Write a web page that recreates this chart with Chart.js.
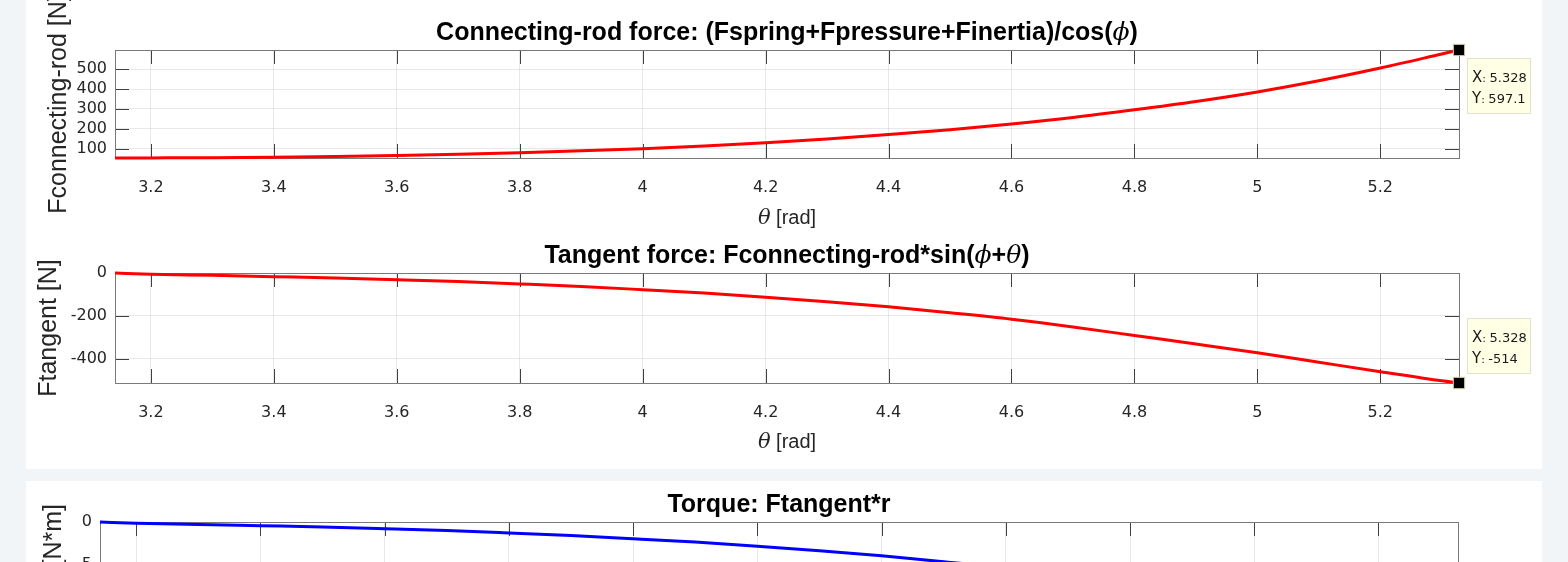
<!DOCTYPE html>
<html lang="en">
<head>
<meta charset="UTF-8">
<title>Crank forces</title>
<style>
  body {
    margin: 0;
    width: 1568px;
    height: 562px;
    overflow: hidden;
    position: relative;
    background: #f2f5f8;
  }
  .panel { position: absolute; left: 26px; width: 1516px; background: #fff; }
  #panel1 { top: 0; height: 469px; }
  #panel2 { top: 481px; height: 200px; }
  canvas { position: absolute; left: 0; }
  #c1 { top: 0; }
  #c2 { top: 234px; }
  #c3 { top: 481px; }
</style>
<script src="https://cdn.jsdelivr.net/npm/chart.js"></script>
</head>
<body>
<div class="panel" id="panel1"></div>
<div class="panel" id="panel2"></div>
<canvas id="c1" width="1568" height="234"></canvas>
<canvas id="c2" width="1568" height="235"></canvas>
<canvas id="c3" width="1568" height="200"></canvas>

<script>
// crank angle samples [rad]
const theta = [3.1416, 3.2, 3.3, 3.4, 3.5, 3.6, 3.7, 3.8, 3.9, 4.0, 4.1, 4.2,
               4.3, 4.4, 4.5, 4.6, 4.7, 4.8, 4.9, 5.0, 5.1, 5.2, 5.3, 5.328];
// connecting-rod force [N]
const fConnRod = [53, 53.5, 54.5, 57, 61, 66, 72, 80, 89, 100, 114, 130,
                  149, 171, 195, 224, 257, 296, 338, 386, 442, 506, 577, 597.1];
// tangent force [N]
const fTangent = [0, -6, -11, -17, -23, -31, -40, -51, -63, -78, -94, -113,
                  -134, -158, -186, -216, -252, -292, -332, -373, -417, -461, -504, -514];
// torque [N*m]
const torque = [0, -0.15, -0.28, -0.43, -0.58, -0.78, -1.0, -1.28, -1.58, -1.95, -2.35, -2.83,
                -3.35, -3.95, -4.65, -5.4, -6.3, -7.3, -8.3, -9.33, -10.43, -11.53, -12.6, -12.85];

const xTicks = [3.2, 3.4, 3.6, 3.8, 4.0, 4.2, 4.4, 4.6, 4.8, 5.0, 5.2];
const xTickLabels = ['3.2', '3.4', '3.6', '3.8', '4', '4.2', '4.4', '4.6', '4.8', '5', '5.2'];
const yTicksConn = [100, 200, 300, 400, 500];
const yTicksTan = [-400, -200, 0];
const yTicksTorque = [-10, -5, 0];

const TXT = '#262626';
const GRID = 'rgba(0,0,0,0.09)';
const tickFont = { family: 'DejaVu Sans', size: 16 };

// draws text made of several font runs, starting at x (or centred on x)
function drawRich(ctx, parts, x, baseY, centred) {
  if (centred) {
    let w = 0;
    parts.forEach(p => { ctx.font = p[1]; w += ctx.measureText(p[0]).width; });
    x -= w / 2;
  }
  ctx.textAlign = 'left';
  ctx.textBaseline = 'alphabetic';
  parts.forEach(p => {
    ctx.font = p[1];
    ctx.fillText(p[0], x, baseY);
    x += ctx.measureText(p[0]).width;
  });
}

// MATLAB-ish axes: box, inward ticks, titles, data tip
const matlabAxes = {
  id: 'matlabAxes',
  beforeDatasetsDraw(chart, args, opts) {
    const { ctx, chartArea: a, scales: { x, y } } = chart;
    ctx.save();
    ctx.strokeStyle = '#404040';
    ctx.lineWidth = 1;
    ctx.beginPath();
    x.ticks.forEach(t => {
      const px = Math.round(x.getPixelForValue(t.value)) + 0.5;
      ctx.moveTo(px, a.top); ctx.lineTo(px, a.top + 14);
      ctx.moveTo(px, a.bottom); ctx.lineTo(px, a.bottom - 14);
    });
    y.ticks.forEach(t => {
      const py = Math.round(y.getPixelForValue(t.value)) + 0.5;
      if (py < a.top + 1 || py > a.bottom - 1) return;
      ctx.moveTo(a.left, py); ctx.lineTo(a.left + 14, py);
      ctx.moveTo(a.right, py); ctx.lineTo(a.right - 14, py);
    });
    ctx.stroke();
    ctx.strokeStyle = '#7a7a7a';
    ctx.strokeRect(Math.round(a.left) + 0.5, Math.round(a.top) + 0.5,
                   Math.round(a.right - a.left), Math.round(a.bottom - a.top));
    ctx.restore();
  },
  afterDraw(chart, args, opts) {
    const { ctx, chartArea: a } = chart;
    const cx = (a.left + a.right) / 2;
    ctx.save();
    ctx.fillStyle = '#000';
    drawRich(ctx, opts.title, cx, opts.titleBase, true);
    if (opts.xlabelBase) {
      ctx.fillStyle = TXT;
      drawRich(ctx, [['θ', 'italic 21px "DejaVu Serif"'], [' [rad]', '20px "Liberation Sans"']], cx, opts.xlabelBase, true);
    }
    if (opts.tip) {
      const meta = chart.getDatasetMeta(0);
      const last = meta.data.length - 1;
      const pt = meta.data[last];
      const vals = chart.data.datasets[0].data;
      const bw = 64, bh = 56;
      const bx = pt.x + 8;
      const by = opts.tip === 'below' ? pt.y + 8 : pt.y - 9 - bh;
      ctx.fillStyle = '#ffffe5';
      ctx.fillRect(bx, by, bw, bh);
      ctx.strokeStyle = '#e2e2cc';
      ctx.strokeRect(bx + 0.5, by + 0.5, bw - 1, bh - 1);
      ctx.fillStyle = '#1a1a1a';
      const big = '15px "DejaVu Sans"', sm = '11px "DejaVu Sans"', num = '13px "DejaVu Sans"';
      drawRich(ctx, [['X', big], [': ', sm], [vals[last].x.toFixed(3), num]], bx + 5, by + 24, false);
      drawRich(ctx, [['Y', big], [': ', sm], [String(vals[last].y), num]], bx + 5, by + 45, false);
    }
    ctx.restore();
  }
};

function makeChart(id, cfg) {
  const canvas = document.getElementById(id);
  const last = theta.length - 1;
  return new Chart(canvas, {
    type: 'line',
    data: {
      datasets: [{
        data: theta.map((t, i) => ({ x: t, y: cfg.values[i] })),
        borderColor: cfg.color,
        borderWidth: 3,
        cubicInterpolationMode: 'monotone',
        clip: false,
        pointStyle: 'rect',
        pointRadius: ctx => (cfg.tip && ctx.dataIndex === last) ? 8 : 0,
        pointBackgroundColor: '#000',
        pointBorderColor: '#d8d09a',
        pointBorderWidth: 1
      }]
    },
    options: {
      responsive: false,
      animation: false,
      events: [],
      layout: { padding: { top: cfg.area.top, right: canvas.width - cfg.area.right, left: 0, bottom: 0 } },
      plugins: {
        legend: { display: false },
        tooltip: { enabled: false },
        matlabAxes: { title: cfg.title, titleBase: cfg.titleBase, xlabelBase: cfg.xlabelBase, tip: cfg.tip }
      },
      scales: {
        x: {
          type: 'linear',
          min: theta[0],
          max: theta[last],
          afterBuildTicks: s => { s.ticks = xTicks.map(v => ({ value: v })); },
          afterFit: s => { s.height = canvas.height - cfg.area.bottom; },
          grid: { color: GRID, drawTicks: false },
          border: { display: false },
          ticks: {
            padding: 20, font: tickFont, color: TXT, maxRotation: 0, autoSkip: false,
            callback: v => xTickLabels[xTicks.indexOf(v)]
          }
        },
        y: {
          min: cfg.yMin,
          max: cfg.yMax,
          afterBuildTicks: s => { s.ticks = cfg.yTicks.map(v => ({ value: v })); },
          afterFit: s => { s.width = cfg.area.left; },
          grid: { color: GRID, drawTicks: false },
          border: { display: false },
          ticks: { padding: 8, font: tickFont, color: TXT },
          title: {
            display: true, text: cfg.yTitle, color: TXT,
            font: { family: 'Liberation Sans', size: 25 },
            padding: { top: cfg.yTitlePad, bottom: 0 }
          }
        }
      }
    },
    plugins: [matlabAxes]
  });
}

const B = 'bold 25px "Liberation Sans"';
const GI = 'italic 25px "DejaVu Serif"';

makeChart('c1', {
  values: fConnRod, color: '#ff0000', yMin: 53, yMax: 597.1, yTicks: yTicksConn,
  yTitle: 'Fconnecting-rod [N]', yTitlePad: 44,
  area: { left: 115, right: 1459, top: 50, bottom: 158 },
  title: [['Connecting-rod force: (Fspring+Fpressure+Finertia)/cos(', B], ['ϕ', GI], [')', B]],
  titleBase: 40, xlabelBase: 224, tip: 'below'
});

makeChart('c2', {
  values: fTangent, color: '#ff0000', yMin: -514, yMax: 0, yTicks: yTicksTan,
  yTitle: 'Ftangent [N]', yTitlePad: 34,
  area: { left: 115, right: 1459, top: 39, bottom: 149 },
  title: [['Tangent force: Fconnecting-rod*sin(', B], ['ϕ', GI], ['+', B], ['θ', GI], [')', B]],
  titleBase: 29, xlabelBase: 214, tip: 'above'
});

makeChart('c3', {
  values: torque, color: '#0000ff', yMin: -12.85, yMax: 0, yTicks: yTicksTorque,
  yTitle: 'Torque [N*m]', yTitlePad: 39,
  area: { left: 100, right: 1458, top: 41, bottom: 151 },
  title: [['Torque: Ftangent*r', B]],
  titleBase: 31, xlabelBase: 0, tip: null
});
</script>
</body>
</html>
